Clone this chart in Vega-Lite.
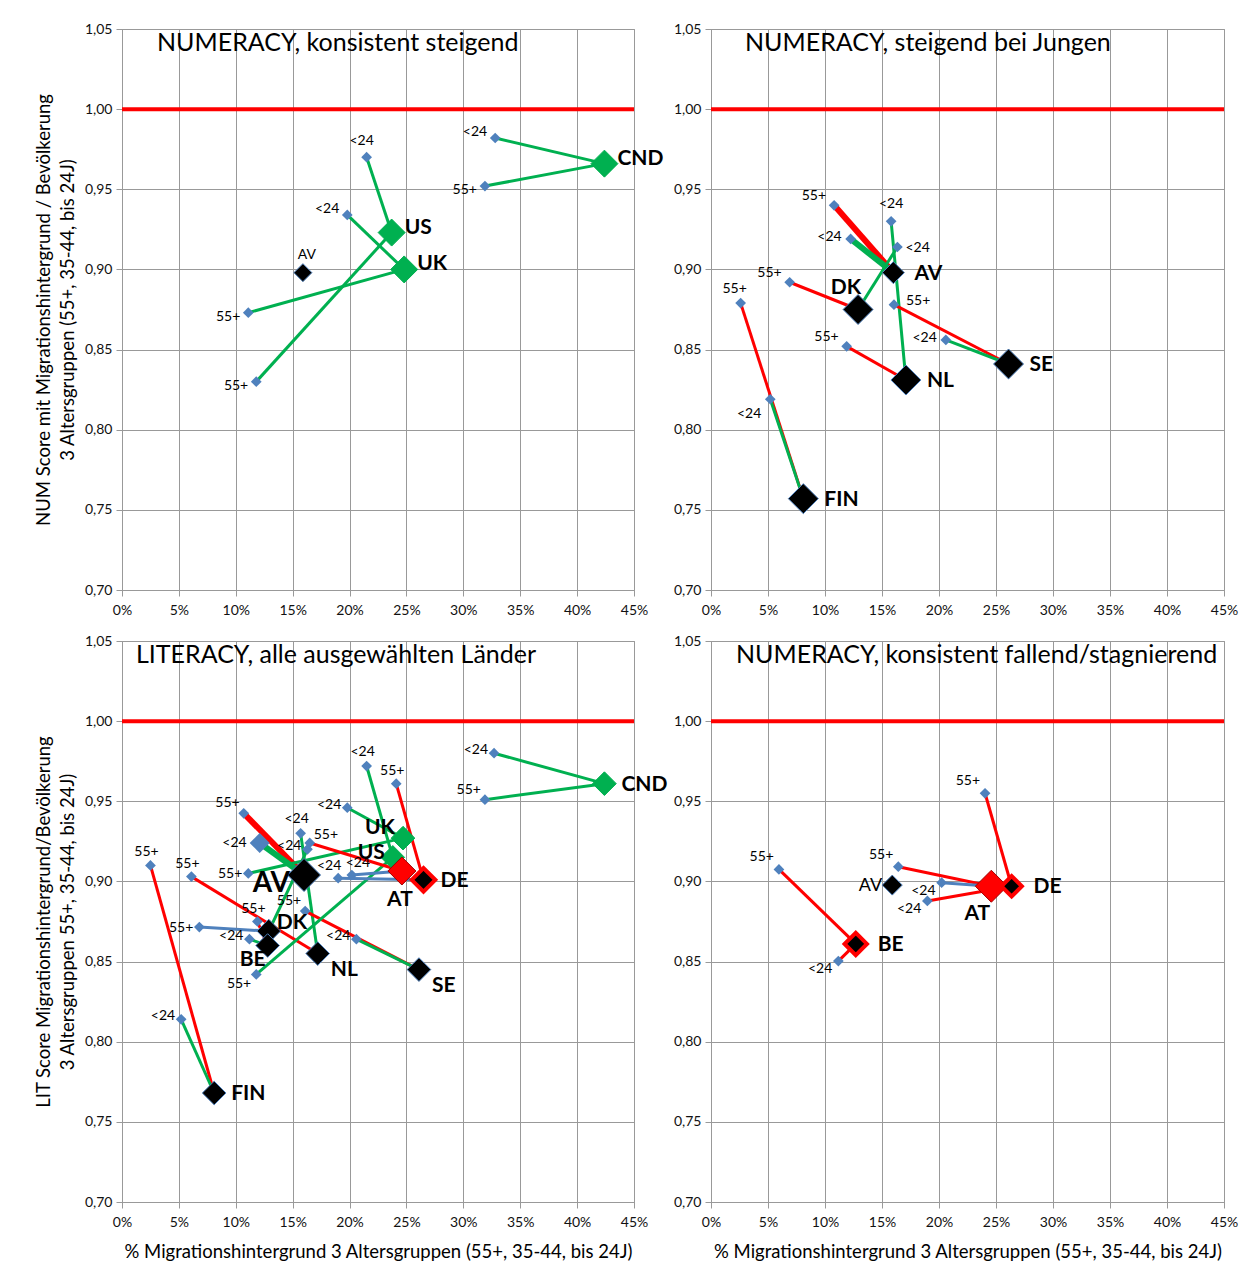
{
  "$schema": "https://vega.github.io/schema/vega-lite/v6.json",
  "background": "white",
  "padding": {"left": 33, "top": 21, "right": 5, "bottom": 5},
  "bounds": "flush",
  "columns": 2,
  "spacing": {"row": 51, "column": 77},
  "config": {
    "locale": {"number": {"decimal": ",", "thousands": ".", "grouping": [3], "currency": ["", " €"]}},
    "font": "Lato",
    "view": {"stroke": "#999999", "strokeWidth": 1},
    "axis": {"grid": true, "gridColor": "#999999", "gridWidth": 1, "domainColor": "#999999", "tickColor": "#999999", "tickSize": 6, "labelFont": "Lato", "labelFontSize": 14, "labelColor": "#111111", "labelPadding": 4, "labelFlush": false, "titleFont": "Lato", "titleFontSize": 18.5, "titleFontWeight": "normal", "titleColor": "#000000", "titleLineHeight": 24},
    "axisX": {"labelPadding": 7, "titlePadding": 13},
    "axisY": {"titlePadding": 7},
    "title": {"font": "Lato", "fontSize": 25, "fontWeight": "normal", "anchor": "start", "frame": "group", "baseline": "top", "offset": -34, "color": "#000000"}
  },
  "datasets": {
    "referenz": [{"x": 0, "y": 1}, {"x": 0.45, "y": 1}],
    "punkte": [
      {"panel": "A", "land": "US", "alter": "55+", "x": 0.118, "y": 0.830},
      {"panel": "A", "land": "US", "alter": "Land", "x": 0.237, "y": 0.923, "typ": "steigend"},
      {"panel": "A", "land": "US", "alter": "<24", "x": 0.215, "y": 0.970},
      {"panel": "A", "land": "UK", "alter": "55+", "x": 0.111, "y": 0.873},
      {"panel": "A", "land": "UK", "alter": "Land", "x": 0.248, "y": 0.900, "typ": "steigend"},
      {"panel": "A", "land": "UK", "alter": "<24", "x": 0.198, "y": 0.934},
      {"panel": "A", "land": "CND", "alter": "55+", "x": 0.319, "y": 0.952},
      {"panel": "A", "land": "CND", "alter": "Land", "x": 0.424, "y": 0.966, "typ": "steigend"},
      {"panel": "A", "land": "CND", "alter": "<24", "x": 0.328, "y": 0.982},
      {"panel": "A", "land": "AV", "alter": "Land", "x": 0.159, "y": 0.898, "typ": "Durchschnitt"},

      {"panel": "B", "land": "AV", "alter": "55+", "x": 0.108, "y": 0.940},
      {"panel": "B", "land": "AV", "alter": "Land", "x": 0.160, "y": 0.898, "typ": "Durchschnitt"},
      {"panel": "B", "land": "AV", "alter": "<24", "x": 0.1225, "y": 0.919},
      {"panel": "B", "land": "DK", "alter": "55+", "x": 0.069, "y": 0.892},
      {"panel": "B", "land": "DK", "alter": "Land", "x": 0.129, "y": 0.875, "typ": "jung"},
      {"panel": "B", "land": "DK", "alter": "<24", "x": 0.1635, "y": 0.914},
      {"panel": "B", "land": "NL", "alter": "55+", "x": 0.119, "y": 0.852},
      {"panel": "B", "land": "NL", "alter": "Land", "x": 0.171, "y": 0.831, "typ": "jung"},
      {"panel": "B", "land": "NL", "alter": "<24", "x": 0.158, "y": 0.930},
      {"panel": "B", "land": "SE", "alter": "55+", "x": 0.1605, "y": 0.878},
      {"panel": "B", "land": "SE", "alter": "Land", "x": 0.261, "y": 0.841, "typ": "jung"},
      {"panel": "B", "land": "SE", "alter": "<24", "x": 0.206, "y": 0.856},
      {"panel": "B", "land": "FIN", "alter": "55+", "x": 0.026, "y": 0.879},
      {"panel": "B", "land": "FIN", "alter": "Land", "x": 0.081, "y": 0.757, "typ": "jung"},
      {"panel": "B", "land": "FIN", "alter": "<24", "x": 0.052, "y": 0.819},

      {"panel": "C", "land": "AV", "alter": "55+", "x": 0.107, "y": 0.9425},
      {"panel": "C", "land": "AV", "alter": "Land", "x": 0.160, "y": 0.904, "typ": "Durchschnitt"},
      {"panel": "C", "land": "AV", "alter": "<24", "x": 0.121, "y": 0.924},
      {"panel": "C", "land": "FIN", "alter": "55+", "x": 0.025, "y": 0.910},
      {"panel": "C", "land": "FIN", "alter": "Land", "x": 0.081, "y": 0.768, "typ": "jung"},
      {"panel": "C", "land": "FIN", "alter": "<24", "x": 0.052, "y": 0.814},
      {"panel": "C", "land": "NL", "alter": "55+", "x": 0.061, "y": 0.903},
      {"panel": "C", "land": "NL", "alter": "Land", "x": 0.172, "y": 0.855, "typ": "jung"},
      {"panel": "C", "land": "NL", "alter": "<24", "x": 0.157, "y": 0.930},
      {"panel": "C", "land": "SE", "alter": "55+", "x": 0.161, "y": 0.8815},
      {"panel": "C", "land": "SE", "alter": "Land", "x": 0.261, "y": 0.845, "typ": "jung"},
      {"panel": "C", "land": "SE", "alter": "<24", "x": 0.206, "y": 0.864},
      {"panel": "C", "land": "DK", "alter": "55+", "x": 0.068, "y": 0.8715},
      {"panel": "C", "land": "DK", "alter": "Land", "x": 0.129, "y": 0.869, "typ": "jung"},
      {"panel": "C", "land": "DK", "alter": "<24", "x": 0.163, "y": 0.920},
      {"panel": "C", "land": "BE", "alter": "55+", "x": 0.119, "y": 0.875},
      {"panel": "C", "land": "BE", "alter": "Land", "x": 0.128, "y": 0.860, "typ": "jung"},
      {"panel": "C", "land": "BE", "alter": "<24", "x": 0.112, "y": 0.864},
      {"panel": "C", "land": "UK", "alter": "55+", "x": 0.111, "y": 0.905},
      {"panel": "C", "land": "UK", "alter": "Land", "x": 0.247, "y": 0.927, "typ": "steigend"},
      {"panel": "C", "land": "UK", "alter": "<24", "x": 0.198, "y": 0.946},
      {"panel": "C", "land": "US", "alter": "55+", "x": 0.118, "y": 0.842},
      {"panel": "C", "land": "US", "alter": "Land", "x": 0.238, "y": 0.915, "typ": "steigend"},
      {"panel": "C", "land": "US", "alter": "<24", "x": 0.215, "y": 0.972},
      {"panel": "C", "land": "CND", "alter": "55+", "x": 0.319, "y": 0.951},
      {"panel": "C", "land": "CND", "alter": "Land", "x": 0.424, "y": 0.961, "typ": "steigend"},
      {"panel": "C", "land": "CND", "alter": "<24", "x": 0.327, "y": 0.980},
      {"panel": "C", "land": "AT", "alter": "55+", "x": 0.165, "y": 0.924},
      {"panel": "C", "land": "AT", "alter": "Land", "x": 0.246, "y": 0.9065, "typ": "fallend"},
      {"panel": "C", "land": "AT", "alter": "<24", "x": 0.202, "y": 0.904},
      {"panel": "C", "land": "DE", "alter": "55+", "x": 0.241, "y": 0.961},
      {"panel": "C", "land": "DE", "alter": "Land", "x": 0.265, "y": 0.901, "typ": "fallend2"},
      {"panel": "C", "land": "DE", "alter": "<24", "x": 0.190, "y": 0.902},

      {"panel": "D", "land": "BE", "alter": "55+", "x": 0.0596, "y": 0.9075},
      {"panel": "D", "land": "BE", "alter": "Land", "x": 0.127, "y": 0.861, "typ": "fallend2"},
      {"panel": "D", "land": "BE", "alter": "<24", "x": 0.1117, "y": 0.8503},
      {"panel": "D", "land": "AT", "alter": "55+", "x": 0.1643, "y": 0.9092},
      {"panel": "D", "land": "AT", "alter": "Land", "x": 0.2459, "y": 0.897, "typ": "fallend"},
      {"panel": "D", "land": "AT", "alter": "<24", "x": 0.2023, "y": 0.8992},
      {"panel": "D", "land": "DE", "alter": "55+", "x": 0.2404, "y": 0.955},
      {"panel": "D", "land": "DE", "alter": "Land", "x": 0.2637, "y": 0.897, "typ": "fallend2"},
      {"panel": "D", "land": "DE", "alter": "<24", "x": 0.1898, "y": 0.8878},
      {"panel": "D", "land": "AV", "alter": "Land", "x": 0.159, "y": 0.8977, "typ": "Durchschnitt"}
    ],
    "linien": [
      {"panel": "A", "land": "US", "teil": "55+ → Land", "x": 0.118, "y": 0.830, "x2": 0.237, "y2": 0.923, "trend": "steigend"},
      {"panel": "A", "land": "US", "teil": "Land → <24", "x": 0.237, "y": 0.923, "x2": 0.215, "y2": 0.970, "trend": "steigend"},
      {"panel": "A", "land": "UK", "teil": "55+ → Land", "x": 0.111, "y": 0.873, "x2": 0.248, "y2": 0.900, "trend": "steigend"},
      {"panel": "A", "land": "UK", "teil": "Land → <24", "x": 0.248, "y": 0.900, "x2": 0.198, "y2": 0.934, "trend": "steigend"},
      {"panel": "A", "land": "CND", "teil": "55+ → Land", "x": 0.319, "y": 0.952, "x2": 0.424, "y2": 0.966, "trend": "steigend"},
      {"panel": "A", "land": "CND", "teil": "Land → <24", "x": 0.424, "y": 0.966, "x2": 0.328, "y2": 0.982, "trend": "steigend"},

      {"panel": "B", "land": "AV", "teil": "55+ → Land", "x": 0.108, "y": 0.940, "x2": 0.160, "y2": 0.898, "trend": "fallend"},
      {"panel": "B", "land": "AV", "teil": "Land → <24", "x": 0.160, "y": 0.898, "x2": 0.1225, "y2": 0.919, "trend": "steigend"},
      {"panel": "B", "land": "DK", "teil": "55+ → Land", "x": 0.069, "y": 0.892, "x2": 0.129, "y2": 0.875, "trend": "fallend"},
      {"panel": "B", "land": "DK", "teil": "Land → <24", "x": 0.129, "y": 0.875, "x2": 0.1635, "y2": 0.914, "trend": "steigend"},
      {"panel": "B", "land": "NL", "teil": "55+ → Land", "x": 0.119, "y": 0.852, "x2": 0.171, "y2": 0.831, "trend": "fallend"},
      {"panel": "B", "land": "NL", "teil": "Land → <24", "x": 0.171, "y": 0.831, "x2": 0.158, "y2": 0.930, "trend": "steigend"},
      {"panel": "B", "land": "SE", "teil": "55+ → Land", "x": 0.1605, "y": 0.878, "x2": 0.261, "y2": 0.841, "trend": "fallend"},
      {"panel": "B", "land": "SE", "teil": "Land → <24", "x": 0.261, "y": 0.841, "x2": 0.206, "y2": 0.856, "trend": "steigend"},
      {"panel": "B", "land": "FIN", "teil": "55+ → Land", "x": 0.026, "y": 0.879, "x2": 0.081, "y2": 0.757, "trend": "fallend"},
      {"panel": "B", "land": "FIN", "teil": "Land → <24", "x": 0.081, "y": 0.757, "x2": 0.052, "y2": 0.819, "trend": "steigend"},

      {"panel": "C", "land": "AV", "teil": "55+ → Land", "x": 0.107, "y": 0.9425, "x2": 0.160, "y2": 0.904, "trend": "fallend"},
      {"panel": "C", "land": "AV", "teil": "Land → <24", "x": 0.160, "y": 0.904, "x2": 0.121, "y2": 0.924, "trend": "steigend"},
      {"panel": "C", "land": "FIN", "teil": "55+ → Land", "x": 0.025, "y": 0.910, "x2": 0.081, "y2": 0.768, "trend": "fallend"},
      {"panel": "C", "land": "FIN", "teil": "Land → <24", "x": 0.081, "y": 0.768, "x2": 0.052, "y2": 0.814, "trend": "steigend"},
      {"panel": "C", "land": "NL", "teil": "55+ → Land", "x": 0.061, "y": 0.903, "x2": 0.172, "y2": 0.855, "trend": "fallend"},
      {"panel": "C", "land": "NL", "teil": "Land → <24", "x": 0.172, "y": 0.855, "x2": 0.157, "y2": 0.930, "trend": "steigend"},
      {"panel": "C", "land": "SE", "teil": "55+ → Land", "x": 0.161, "y": 0.8815, "x2": 0.261, "y2": 0.845, "trend": "fallend"},
      {"panel": "C", "land": "SE", "teil": "Land → <24", "x": 0.261, "y": 0.845, "x2": 0.206, "y2": 0.864, "trend": "steigend"},
      {"panel": "C", "land": "DK", "teil": "55+ → Land", "x": 0.068, "y": 0.8715, "x2": 0.129, "y2": 0.869, "trend": "gleich"},
      {"panel": "C", "land": "DK", "teil": "Land → <24", "x": 0.129, "y": 0.869, "x2": 0.163, "y2": 0.920, "trend": "steigend"},
      {"panel": "C", "land": "BE", "teil": "55+ → Land", "x": 0.119, "y": 0.875, "x2": 0.128, "y2": 0.860, "trend": "fallend"},
      {"panel": "C", "land": "BE", "teil": "Land → <24", "x": 0.128, "y": 0.860, "x2": 0.112, "y2": 0.864, "trend": "steigend"},
      {"panel": "C", "land": "UK", "teil": "55+ → Land", "x": 0.111, "y": 0.905, "x2": 0.247, "y2": 0.927, "trend": "steigend"},
      {"panel": "C", "land": "UK", "teil": "Land → <24", "x": 0.247, "y": 0.927, "x2": 0.198, "y2": 0.946, "trend": "steigend"},
      {"panel": "C", "land": "US", "teil": "55+ → Land", "x": 0.118, "y": 0.842, "x2": 0.238, "y2": 0.915, "trend": "steigend"},
      {"panel": "C", "land": "US", "teil": "Land → <24", "x": 0.238, "y": 0.915, "x2": 0.215, "y2": 0.972, "trend": "steigend"},
      {"panel": "C", "land": "CND", "teil": "55+ → Land", "x": 0.319, "y": 0.951, "x2": 0.424, "y2": 0.961, "trend": "steigend"},
      {"panel": "C", "land": "CND", "teil": "Land → <24", "x": 0.424, "y": 0.961, "x2": 0.327, "y2": 0.980, "trend": "steigend"},
      {"panel": "C", "land": "AT", "teil": "55+ → Land", "x": 0.165, "y": 0.924, "x2": 0.246, "y2": 0.9065, "trend": "fallend"},
      {"panel": "C", "land": "AT", "teil": "Land → <24", "x": 0.246, "y": 0.9065, "x2": 0.202, "y2": 0.904, "trend": "gleich"},
      {"panel": "C", "land": "DE", "teil": "55+ → Land", "x": 0.241, "y": 0.961, "x2": 0.265, "y2": 0.901, "trend": "fallend"},
      {"panel": "C", "land": "DE", "teil": "Land → <24", "x": 0.265, "y": 0.901, "x2": 0.190, "y2": 0.902, "trend": "gleich"},

      {"panel": "D", "land": "BE", "teil": "55+ → Land", "x": 0.0596, "y": 0.9075, "x2": 0.127, "y2": 0.861, "trend": "fallend"},
      {"panel": "D", "land": "BE", "teil": "Land → <24", "x": 0.127, "y": 0.861, "x2": 0.1117, "y2": 0.8503, "trend": "fallend"},
      {"panel": "D", "land": "AT", "teil": "55+ → Land", "x": 0.1643, "y": 0.9092, "x2": 0.2459, "y2": 0.897, "trend": "fallend"},
      {"panel": "D", "land": "AT", "teil": "Land → <24", "x": 0.2459, "y": 0.897, "x2": 0.2023, "y2": 0.8992, "trend": "gleich"},
      {"panel": "D", "land": "DE", "teil": "55+ → Land", "x": 0.2404, "y": 0.955, "x2": 0.2637, "y2": 0.897, "trend": "fallend"},
      {"panel": "D", "land": "DE", "teil": "Land → <24", "x": 0.2637, "y": 0.897, "x2": 0.1898, "y2": 0.8878, "trend": "fallend"}
    ]
  },
  "concat": [
    {
      "width": 512, "height": 561,
      "title": {"text": "NUMERACY, konsistent steigend", "dx": 35},
      "encoding": {
        "x": {"field": "x", "type": "quantitative", "scale": {"domain": [0, 0.45], "nice": false, "zero": false}, "axis": {"format": ".0%", "values": [0, 0.05, 0.1, 0.15, 0.2, 0.25, 0.3, 0.35, 0.4, 0.45], "title": null}},
        "y": {"field": "y", "type": "quantitative", "scale": {"domain": [0.7, 1.05], "nice": false, "zero": false}, "axis": {"format": ".2f", "values": [0.7, 0.75, 0.8, 0.85, 0.9, 0.95, 1, 1.05], "title": ["NUM Score mit Migrationshintergrund / Bevölkerung", "3 Altersgruppen (55+, 35-44, bis 24J)"]}}
      },
      "layer": [
        {"data": {"name": "referenz"}, "mark": {"type": "line", "color": "#FF0000", "strokeWidth": 4}},
        {"data": {"name": "linien"}, "transform": [{"filter": "datum.panel === 'A'"}], "mark": {"type": "rule", "strokeCap": "butt"},
         "encoding": {"x2": {"field": "x2"}, "y2": {"field": "y2"}, "color": {"field": "trend", "type": "nominal", "scale": {"domain": ["steigend", "fallend", "gleich"], "range": ["#00B050", "#FF0000", "#4F81BD"]}, "legend": null}, "strokeWidth": {"condition": {"test": "datum.land === 'AV'", "value": 6}, "value": 3}}},
        {"data": {"name": "punkte"}, "transform": [{"filter": "datum.panel === 'A' && datum.alter !== 'Land'"}], "mark": {"type": "point", "shape": "diamond", "filled": true, "color": "#4F81BD", "size": 115, "opacity": 1}},
        {"data": {"name": "punkte"}, "transform": [{"filter": "datum.panel === 'A' && datum.alter === 'Land'"}], "mark": {"type": "point", "shape": "diamond", "filled": true, "opacity": 1},
         "encoding": {"fill": {"field": "typ", "type": "nominal", "scale": {"domain": ["steigend", "jung", "fallend", "fallend2", "Durchschnitt"], "range": ["#00B050", "#000000", "#FF0000", "#000000", "#000000"]}, "legend": null},
                      "stroke": {"field": "typ", "type": "nominal", "scale": {"domain": ["steigend", "jung", "fallend", "fallend2", "Durchschnitt"], "range": ["#00B050", "#4F81BD", "#A00000", "#FF0000", "#4F81BD"]}, "legend": null},
                      "strokeWidth": {"condition": {"test": "datum.typ === 'fallend2'", "value": 4}, "value": 1},
                      "size": {"condition": {"test": "datum.land === 'AV'", "value": 324}, "value": 729}}},
        {"data": {"name": "punkte"}, "transform": [{"filter": "datum.panel === 'A' && datum.alter === '55+'"}], "mark": {"type": "text", "align": "right", "dx": -8, "dy": 4, "fontSize": 14, "color": "#000000"}, "encoding": {"text": {"field": "alter"}}},
        {"data": {"name": "punkte"}, "transform": [{"filter": "datum.panel === 'A' && datum.alter === '<24' && datum.land !== 'US'"}], "mark": {"type": "text", "align": "right", "dx": -8, "dy": -6, "fontSize": 14, "color": "#000000"}, "encoding": {"text": {"field": "alter"}}},
        {"data": {"name": "punkte"}, "transform": [{"filter": "datum.panel === 'A' && datum.alter === '<24' && datum.land === 'US'"}], "mark": {"type": "text", "align": "center", "dx": -5, "dy": -16, "fontSize": 14, "color": "#000000"}, "encoding": {"text": {"field": "alter"}}},
        {"data": {"name": "punkte"}, "transform": [{"filter": "datum.panel === 'A' && datum.alter === 'Land' && datum.land !== 'AV'"}], "mark": {"type": "text", "align": "left", "dx": 13, "dy": -5, "fontSize": 21, "fontWeight": "bold", "color": "#000000"}, "encoding": {"text": {"field": "land"}}},
        {"data": {"name": "punkte"}, "transform": [{"filter": "datum.panel === 'A' && datum.land === 'AV'"}], "mark": {"type": "text", "align": "center", "dx": 4, "dy": -18, "fontSize": 14, "color": "#000000"}, "encoding": {"text": {"field": "land"}}}
      ]
    },
    {
      "width": 513, "height": 561,
      "title": {"text": "NUMERACY, steigend bei Jungen", "dx": 34},
      "encoding": {
        "x": {"field": "x", "type": "quantitative", "scale": {"domain": [0, 0.45], "nice": false, "zero": false}, "axis": {"format": ".0%", "values": [0, 0.05, 0.1, 0.15, 0.2, 0.25, 0.3, 0.35, 0.4, 0.45], "title": null}},
        "y": {"field": "y", "type": "quantitative", "scale": {"domain": [0.7, 1.05], "nice": false, "zero": false}, "axis": {"format": ".2f", "values": [0.7, 0.75, 0.8, 0.85, 0.9, 0.95, 1, 1.05], "title": null}}
      },
      "layer": [
        {"data": {"name": "referenz"}, "mark": {"type": "line", "color": "#FF0000", "strokeWidth": 4}},
        {"data": {"name": "linien"}, "transform": [{"filter": "datum.panel === 'B'"}], "mark": {"type": "rule", "strokeCap": "butt"},
         "encoding": {"x2": {"field": "x2"}, "y2": {"field": "y2"}, "color": {"field": "trend", "type": "nominal", "scale": {"domain": ["steigend", "fallend", "gleich"], "range": ["#00B050", "#FF0000", "#4F81BD"]}, "legend": null}, "strokeWidth": {"condition": {"test": "datum.land === 'AV'", "value": 6}, "value": 3}}},
        {"data": {"name": "punkte"}, "transform": [{"filter": "datum.panel === 'B' && datum.alter !== 'Land'"}], "mark": {"type": "point", "shape": "diamond", "filled": true, "color": "#4F81BD", "size": 115, "opacity": 1}},
        {"data": {"name": "punkte"}, "transform": [{"filter": "datum.panel === 'B' && datum.alter === 'Land'"}], "mark": {"type": "point", "shape": "diamond", "filled": true, "opacity": 1},
         "encoding": {"fill": {"field": "typ", "type": "nominal", "scale": {"domain": ["steigend", "jung", "fallend", "fallend2", "Durchschnitt"], "range": ["#00B050", "#000000", "#FF0000", "#000000", "#000000"]}, "legend": null},
                      "stroke": {"field": "typ", "type": "nominal", "scale": {"domain": ["steigend", "jung", "fallend", "fallend2", "Durchschnitt"], "range": ["#00B050", "#4F81BD", "#A00000", "#FF0000", "#4F81BD"]}, "legend": null},
                      "strokeWidth": {"condition": {"test": "datum.typ === 'fallend2'", "value": 4}, "value": 1},
                      "size": {"condition": {"test": "datum.land === 'AV'", "value": 484}, "value": 900}}},
        {"data": {"name": "punkte"}, "transform": [{"filter": "datum.panel === 'B' && datum.alter === '55+' && datum.land !== 'SE' && datum.land !== 'FIN'"}], "mark": {"type": "text", "align": "right", "dx": -8, "dy": -9, "fontSize": 14, "color": "#000000"}, "encoding": {"text": {"field": "alter"}}},
        {"data": {"name": "punkte"}, "transform": [{"filter": "datum.panel === 'B' && datum.alter === '55+' && datum.land === 'SE'"}], "mark": {"type": "text", "align": "left", "dx": 12, "dy": -4, "fontSize": 14, "color": "#000000"}, "encoding": {"text": {"field": "alter"}}},
        {"data": {"name": "punkte"}, "transform": [{"filter": "datum.panel === 'B' && datum.alter === '55+' && datum.land === 'FIN'"}], "mark": {"type": "text", "align": "center", "dx": -6, "dy": -14, "fontSize": 14, "color": "#000000"}, "encoding": {"text": {"field": "alter"}}},
        {"data": {"name": "punkte"}, "transform": [{"filter": "datum.panel === 'B' && datum.alter === '<24' && (datum.land === 'AV' || datum.land === 'SE')"}], "mark": {"type": "text", "align": "right", "dx": -9, "dy": -2, "fontSize": 14, "color": "#000000"}, "encoding": {"text": {"field": "alter"}}},
        {"data": {"name": "punkte"}, "transform": [{"filter": "datum.panel === 'B' && datum.alter === '<24' && datum.land === 'DK'"}], "mark": {"type": "text", "align": "left", "dx": 8, "dy": 1, "fontSize": 14, "color": "#000000"}, "encoding": {"text": {"field": "alter"}}},
        {"data": {"name": "punkte"}, "transform": [{"filter": "datum.panel === 'B' && datum.alter === '<24' && datum.land === 'NL'"}], "mark": {"type": "text", "align": "center", "dx": 0, "dy": -17, "fontSize": 14, "color": "#000000"}, "encoding": {"text": {"field": "alter"}}},
        {"data": {"name": "punkte"}, "transform": [{"filter": "datum.panel === 'B' && datum.alter === '<24' && datum.land === 'FIN'"}], "mark": {"type": "text", "align": "right", "dx": -9, "dy": 15, "fontSize": 14, "color": "#000000"}, "encoding": {"text": {"field": "alter"}}},
        {"data": {"name": "punkte"}, "transform": [{"filter": "datum.panel === 'B' && datum.alter === 'Land' && datum.land !== 'DK'"}], "mark": {"type": "text", "align": "left", "dx": 21, "dy": 1, "fontSize": 21, "fontWeight": "bold", "color": "#000000"}, "encoding": {"text": {"field": "land"}}},
        {"data": {"name": "punkte"}, "transform": [{"filter": "datum.panel === 'B' && datum.alter === 'Land' && datum.land === 'DK'"}], "mark": {"type": "text", "align": "right", "dx": 3, "dy": -22, "fontSize": 21, "fontWeight": "bold", "color": "#000000"}, "encoding": {"text": {"field": "land"}}}
      ]
    },
    {
      "width": 512, "height": 561,
      "title": {"text": "LITERACY, alle ausgewählten Länder", "dx": 14},
      "encoding": {
        "x": {"field": "x", "type": "quantitative", "scale": {"domain": [0, 0.45], "nice": false, "zero": false}, "axis": {"format": ".0%", "values": [0, 0.05, 0.1, 0.15, 0.2, 0.25, 0.3, 0.35, 0.4, 0.45], "title": "% Migrationshintergrund 3 Altersgruppen (55+, 35-44, bis 24J)"}},
        "y": {"field": "y", "type": "quantitative", "scale": {"domain": [0.7, 1.05], "nice": false, "zero": false}, "axis": {"format": ".2f", "values": [0.7, 0.75, 0.8, 0.85, 0.9, 0.95, 1, 1.05], "title": ["LIT Score Migrationshintergrund/Bevölkerung", "3 Altersgruppen 55+, 35-44, bis 24J)"]}}
      },
      "layer": [
        {"data": {"name": "referenz"}, "mark": {"type": "line", "color": "#FF0000", "strokeWidth": 4}},
        {"data": {"name": "linien"}, "transform": [{"filter": "datum.panel === 'C'"}], "mark": {"type": "rule", "strokeCap": "butt"},
         "encoding": {"x2": {"field": "x2"}, "y2": {"field": "y2"}, "color": {"field": "trend", "type": "nominal", "scale": {"domain": ["steigend", "fallend", "gleich"], "range": ["#00B050", "#FF0000", "#4F81BD"]}, "legend": null}, "strokeWidth": {"condition": {"test": "datum.land === 'AV'", "value": 6}, "value": 3}}},
        {"data": {"name": "punkte"}, "transform": [{"filter": "datum.panel === 'C' && datum.alter !== 'Land'"}], "mark": {"type": "point", "shape": "diamond", "filled": true, "color": "#4F81BD", "opacity": 1},
         "encoding": {"size": {"condition": {"test": "datum.land === 'AV' && datum.alter === '<24'", "value": 400}, "value": 115}}},
        {"data": {"name": "punkte"}, "transform": [{"filter": "datum.panel === 'C' && datum.alter === 'Land'"}], "mark": {"type": "point", "shape": "diamond", "filled": true, "opacity": 1},
         "encoding": {"fill": {"field": "typ", "type": "nominal", "scale": {"domain": ["steigend", "jung", "fallend", "fallend2", "Durchschnitt"], "range": ["#00B050", "#000000", "#FF0000", "#000000", "#000000"]}, "legend": null},
                      "stroke": {"field": "typ", "type": "nominal", "scale": {"domain": ["steigend", "jung", "fallend", "fallend2", "Durchschnitt"], "range": ["#00B050", "#4F81BD", "#A00000", "#FF0000", "#4F81BD"]}, "legend": null},
                      "strokeWidth": {"condition": {"test": "datum.typ === 'fallend2'", "value": 4}, "value": 1},
                      "size": {"condition": [{"test": "datum.land === 'AV'", "value": 1089}, {"test": "datum.land === 'AT'", "value": 784}], "value": 560}}},
        {"data": {"name": "punkte"}, "transform": [{"filter": "datum.panel === 'C' && datum.alter === '55+' && (datum.land === 'AV' || datum.land === 'SE' || datum.land === 'CND')"}], "mark": {"type": "text", "align": "right", "dx": -4, "dy": -10, "fontSize": 14, "color": "#000000"}, "encoding": {"text": {"field": "alter"}}},
        {"data": {"name": "punkte"}, "transform": [{"filter": "datum.panel === 'C' && datum.alter === '55+' && (datum.land === 'BE' || datum.land === 'DE' || datum.land === 'FIN' || datum.land === 'NL')"}], "mark": {"type": "text", "align": "center", "dx": -4, "dy": -13, "fontSize": 14, "color": "#000000"}, "encoding": {"text": {"field": "alter"}}},
        {"data": {"name": "punkte"}, "transform": [{"filter": "datum.panel === 'C' && datum.alter === '55+' && (datum.land === 'UK' || datum.land === 'DK')"}], "mark": {"type": "text", "align": "right", "dx": -6, "dy": 1, "fontSize": 14, "color": "#000000"}, "encoding": {"text": {"field": "alter"}}},
        {"data": {"name": "punkte"}, "transform": [{"filter": "datum.panel === 'C' && datum.alter === '55+' && datum.land === 'US'"}], "mark": {"type": "text", "align": "right", "dx": -5, "dy": 10, "fontSize": 14, "color": "#000000"}, "encoding": {"text": {"field": "alter"}}},
        {"data": {"name": "punkte"}, "transform": [{"filter": "datum.panel === 'C' && datum.alter === '55+' && datum.land === 'AT'"}], "mark": {"type": "text", "align": "left", "dx": 4, "dy": -8, "fontSize": 14, "color": "#000000"}, "encoding": {"text": {"field": "alter"}}},
        {"data": {"name": "punkte"}, "transform": [{"filter": "datum.panel === 'C' && datum.alter === '<24' && (datum.land === 'UK' || datum.land === 'DK' || datum.land === 'SE' || datum.land === 'FIN' || datum.land === 'BE' || datum.land === 'CND')"}], "mark": {"type": "text", "align": "right", "dx": -6, "dy": -3, "fontSize": 14, "color": "#000000"}, "encoding": {"text": {"field": "alter"}}},
        {"data": {"name": "punkte"}, "transform": [{"filter": "datum.panel === 'C' && datum.alter === '<24' && datum.land === 'AV'"}], "mark": {"type": "text", "align": "right", "dx": -13, "dy": 0, "fontSize": 14, "color": "#000000"}, "encoding": {"text": {"field": "alter"}}},
        {"data": {"name": "punkte"}, "transform": [{"filter": "datum.panel === 'C' && datum.alter === '<24' && (datum.land === 'NL' || datum.land === 'US')"}], "mark": {"type": "text", "align": "center", "dx": -4, "dy": -14, "fontSize": 14, "color": "#000000"}, "encoding": {"text": {"field": "alter"}}},
        {"data": {"name": "punkte"}, "transform": [{"filter": "datum.panel === 'C' && datum.alter === '<24' && datum.land === 'AT'"}], "mark": {"type": "text", "align": "center", "dx": 6, "dy": -12, "fontSize": 14, "color": "#000000"}, "encoding": {"text": {"field": "alter"}}},
        {"data": {"name": "punkte"}, "transform": [{"filter": "datum.panel === 'C' && datum.alter === '<24' && datum.land === 'DE'"}], "mark": {"type": "text", "align": "center", "dx": -9, "dy": -12, "fontSize": 14, "color": "#000000"}, "encoding": {"text": {"field": "alter"}}},
        {"data": {"name": "punkte"}, "transform": [{"filter": "datum.panel === 'C' && datum.alter === 'Land' && (datum.land === 'FIN' || datum.land === 'DE' || datum.land === 'CND')"}], "mark": {"type": "text", "align": "left", "dx": 17, "dy": 1, "fontSize": 21, "fontWeight": "bold", "color": "#000000"}, "encoding": {"text": {"field": "land"}}},
        {"data": {"name": "punkte"}, "transform": [{"filter": "datum.panel === 'C' && datum.alter === 'Land' && (datum.land === 'NL' || datum.land === 'SE')"}], "mark": {"type": "text", "align": "left", "dx": 13, "dy": 16, "fontSize": 21, "fontWeight": "bold", "color": "#000000"}, "encoding": {"text": {"field": "land"}}},
        {"data": {"name": "punkte"}, "transform": [{"filter": "datum.panel === 'C' && datum.alter === 'Land' && datum.land === 'UK'"}], "mark": {"type": "text", "align": "right", "dx": -8, "dy": -10, "fontSize": 21, "fontWeight": "bold", "color": "#000000"}, "encoding": {"text": {"field": "land"}}},
        {"data": {"name": "punkte"}, "transform": [{"filter": "datum.panel === 'C' && datum.alter === 'Land' && datum.land === 'US'"}], "mark": {"type": "text", "align": "right", "dx": -8, "dy": -4, "fontSize": 21, "fontWeight": "bold", "color": "#000000"}, "encoding": {"text": {"field": "land"}}},
        {"data": {"name": "punkte"}, "transform": [{"filter": "datum.panel === 'C' && datum.alter === 'Land' && datum.land === 'AV'"}], "mark": {"type": "text", "align": "right", "dx": -14, "dy": 9, "fontSize": 28, "fontWeight": "bold", "color": "#000000"}, "encoding": {"text": {"field": "land"}}},
        {"data": {"name": "punkte"}, "transform": [{"filter": "datum.panel === 'C' && datum.alter === 'Land' && datum.land === 'AT'"}], "mark": {"type": "text", "align": "center", "dx": -2, "dy": 29, "fontSize": 21, "fontWeight": "bold", "color": "#000000"}, "encoding": {"text": {"field": "land"}}},
        {"data": {"name": "punkte"}, "transform": [{"filter": "datum.panel === 'C' && datum.alter === 'Land' && datum.land === 'DK'"}], "mark": {"type": "text", "align": "left", "dx": 8, "dy": -8, "fontSize": 21, "fontWeight": "bold", "color": "#000000"}, "encoding": {"text": {"field": "land"}}},
        {"data": {"name": "punkte"}, "transform": [{"filter": "datum.panel === 'C' && datum.alter === 'Land' && datum.land === 'BE'"}], "mark": {"type": "text", "align": "right", "dx": -2, "dy": 14, "fontSize": 21, "fontWeight": "bold", "color": "#000000"}, "encoding": {"text": {"field": "land"}}}
      ]
    },
    {
      "width": 513, "height": 561,
      "title": {"text": "NUMERACY, konsistent fallend/stagnierend", "dx": 25},
      "encoding": {
        "x": {"field": "x", "type": "quantitative", "scale": {"domain": [0, 0.45], "nice": false, "zero": false}, "axis": {"format": ".0%", "values": [0, 0.05, 0.1, 0.15, 0.2, 0.25, 0.3, 0.35, 0.4, 0.45], "title": "% Migrationshintergrund 3 Altersgruppen (55+, 35-44, bis 24J)"}},
        "y": {"field": "y", "type": "quantitative", "scale": {"domain": [0.7, 1.05], "nice": false, "zero": false}, "axis": {"format": ".2f", "values": [0.7, 0.75, 0.8, 0.85, 0.9, 0.95, 1, 1.05], "title": null}}
      },
      "layer": [
        {"data": {"name": "referenz"}, "mark": {"type": "line", "color": "#FF0000", "strokeWidth": 4}},
        {"data": {"name": "linien"}, "transform": [{"filter": "datum.panel === 'D'"}], "mark": {"type": "rule", "strokeCap": "butt"},
         "encoding": {"x2": {"field": "x2"}, "y2": {"field": "y2"}, "color": {"field": "trend", "type": "nominal", "scale": {"domain": ["steigend", "fallend", "gleich"], "range": ["#00B050", "#FF0000", "#4F81BD"]}, "legend": null}, "strokeWidth": {"value": 3}}},
        {"data": {"name": "punkte"}, "transform": [{"filter": "datum.panel === 'D' && datum.alter !== 'Land'"}], "mark": {"type": "point", "shape": "diamond", "filled": true, "color": "#4F81BD", "size": 115, "opacity": 1}},
        {"data": {"name": "punkte"}, "transform": [{"filter": "datum.panel === 'D' && datum.alter === 'Land'"}], "mark": {"type": "point", "shape": "diamond", "filled": true, "opacity": 1},
         "encoding": {"fill": {"field": "typ", "type": "nominal", "scale": {"domain": ["steigend", "jung", "fallend", "fallend2", "Durchschnitt"], "range": ["#00B050", "#000000", "#FF0000", "#000000", "#000000"]}, "legend": null},
                      "stroke": {"field": "typ", "type": "nominal", "scale": {"domain": ["steigend", "jung", "fallend", "fallend2", "Durchschnitt"], "range": ["#00B050", "#4F81BD", "#A00000", "#FF0000", "#4F81BD"]}, "legend": null},
                      "strokeWidth": {"condition": {"test": "datum.typ === 'fallend2'", "value": 4}, "value": 1},
                      "size": {"condition": [{"test": "datum.land === 'AT'", "value": 1024}, {"test": "datum.land === 'AV'", "value": 400}, {"test": "datum.land === 'BE'", "value": 500}], "value": 420}}},
        {"data": {"name": "punkte"}, "transform": [{"filter": "datum.panel === 'D' && datum.alter === '55+'"}], "mark": {"type": "text", "align": "right", "dx": -5, "dy": -12, "fontSize": 14, "color": "#000000"}, "encoding": {"text": {"field": "alter"}}},
        {"data": {"name": "punkte"}, "transform": [{"filter": "datum.panel === 'D' && datum.alter === '<24'"}], "mark": {"type": "text", "align": "right", "dx": -6, "dy": 8, "fontSize": 14, "color": "#000000"}, "encoding": {"text": {"field": "alter"}}},
        {"data": {"name": "punkte"}, "transform": [{"filter": "datum.panel === 'D' && datum.alter === 'Land' && (datum.land === 'DE' || datum.land === 'BE')"}], "mark": {"type": "text", "align": "left", "dx": 22, "dy": 1, "fontSize": 21, "fontWeight": "bold", "color": "#000000"}, "encoding": {"text": {"field": "land"}}},
        {"data": {"name": "punkte"}, "transform": [{"filter": "datum.panel === 'D' && datum.alter === 'Land' && datum.land === 'AT'"}], "mark": {"type": "text", "align": "center", "dx": -14, "dy": 28, "fontSize": 21, "fontWeight": "bold", "color": "#000000"}, "encoding": {"text": {"field": "land"}}},
        {"data": {"name": "punkte"}, "transform": [{"filter": "datum.panel === 'D' && datum.alter === 'Land' && datum.land === 'AV'"}], "mark": {"type": "text", "align": "right", "dx": -10, "dy": 1, "fontSize": 18, "color": "#000000"}, "encoding": {"text": {"field": "land"}}}
      ]
    }
  ]
}
